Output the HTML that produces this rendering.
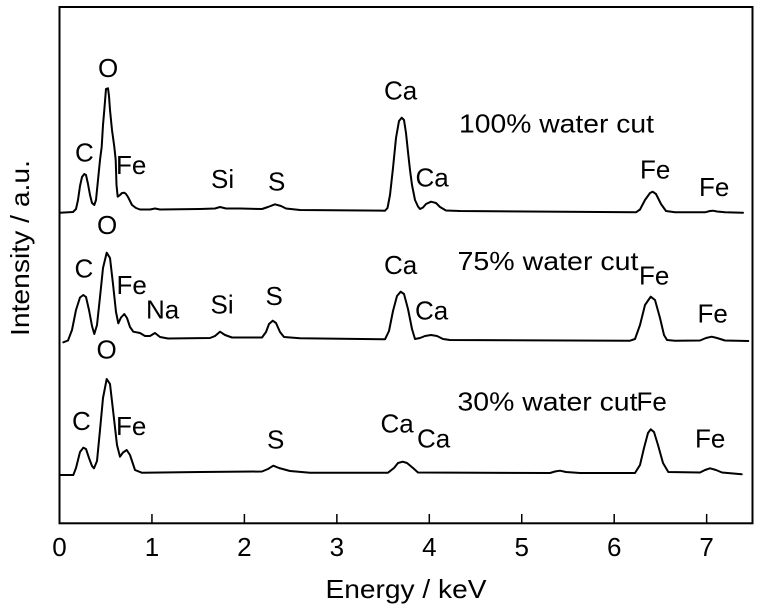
<!DOCTYPE html>
<html>
<head>
<meta charset="utf-8">
<style>
  html, body { margin: 0; padding: 0; background: #fff; }
  svg { display: block; }
  text { font-family: "Liberation Sans", Arial, sans-serif; font-size: 26px; fill: #000; }
</style>
</head>
<body>
<svg width="768" height="609" viewBox="0 0 768 609" xmlns="http://www.w3.org/2000/svg">
  <rect x="0" y="0" width="768" height="609" fill="#fff"/>
  <!-- frame -->
  <rect x="59.5" y="7" width="693" height="516.3" fill="none" stroke="#000" stroke-width="2"/>
  <!-- ticks -->
  <g stroke="#000" stroke-width="1.5">
    <line x1="151.95" y1="523" x2="151.95" y2="514"/>
    <line x1="244.4" y1="523" x2="244.4" y2="514"/>
    <line x1="336.85" y1="523" x2="336.85" y2="514"/>
    <line x1="429.3" y1="523" x2="429.3" y2="514"/>
    <line x1="521.75" y1="523" x2="521.75" y2="514"/>
    <line x1="614.2" y1="523" x2="614.2" y2="514"/>
    <line x1="706.65" y1="523" x2="706.65" y2="514"/>
  </g>
  <!-- tick labels -->
  <g text-anchor="middle">
    <text x="59.5" y="556">0</text>
    <text x="151.95" y="556">1</text>
    <text x="244.4" y="556">2</text>
    <text x="336.85" y="556">3</text>
    <text x="429.3" y="556">4</text>
    <text x="521.75" y="556">5</text>
    <text x="614.2" y="556">6</text>
    <text x="706.65" y="556">7</text>
  </g>
  <text x="406" y="598" text-anchor="middle" textLength="161" lengthAdjust="spacingAndGlyphs">Energy / keV</text>
  <text transform="translate(29,248) rotate(-90)" text-anchor="middle" textLength="176" lengthAdjust="spacingAndGlyphs">Intensity / a.u.</text>

  <!-- curves -->
  <g fill="none" stroke="#000" stroke-width="2" stroke-linejoin="round" stroke-linecap="round">
    <!-- 100% -->
    <polyline points="60,212.7 73,212 76,209 78,200 80,186 82,177 84.3,174 86,175 88,184 90,195 92,203 94.3,205 96,200 98,180 100,160 101.7,146.7 103,125 104.3,110 106,89 108,88.3 109,96 110,110 112,130 114.3,146.7 115.7,160 116.5,185 117.7,196.7 120,195 122,193 124.3,192.7 126,194 128,197 132,205 136,208 140,209.5 150,209.5 155,208.5 160,209.5 200,209 215,208.5 220,207 226,208.5 240,208.5 262,209 268,207 275,204.3 281,206 286,208.5 300,210 385,210.7 387.5,208 390,195 393,168 396,138 399,121 401.7,117.7 404,120 406,133 408,152 410,170 412,185 415,200 418,206.5 420,209 423,207.5 426,204 431,201.7 436,203 440,207 446,210.5 460,211 600,212 636,212.3 640,209.5 645,200 650,193 652.7,191.7 656,194 661,204 666,211 675,212.3 705,212.3 710,211 713,210.7 717,211.5 725,212.3 743,212.7"/>
    <!-- 75% -->
    <polyline points="63.3,342.3 68,340.5 72,330 76,310 80,297.5 83.3,295 86,297 89,310 92,326 94.3,334 97,325 100,297 103,268 106.7,252.7 110,258 113,284 116,312 118.3,323.3 121,317.5 124.3,314 127,318 130,327 133.3,331.7 140,333 145,336 150,336 155,333 160,337 168,338.5 210,338 215,336 220,331.7 225,335 232,337.5 262,337.5 266,332 269,324 272.7,320.7 276,323 280,332 284,337 300,338.3 385,339.3 389,331 393,311 397,296 400.7,291.7 404,294 408,309 412,329 415,339 420,338 425,336 431,335 437,336 443,339 450,340 630,340.7 635,339 640,325 645,305 650.7,296.7 655,300 660,318 664,335 667,340 675,340.7 700,340.5 706,338 711.7,336.7 717,338 725,340.5 748.3,341"/>
    <!-- 30% -->
    <polyline points="60,475 73.3,475 76,468 80,452 83.3,447.7 86,449 89,458 92,466 94,468.3 97,461 100,430 103,398 106.7,379 110,384 113,410 117,445 120,456.7 123,452.5 126.7,450 130,455 133,464 135,470 141.7,472.7 200,472 262,471.5 268,469 273.3,465.7 279,468 290,471 310,472.7 388,472.7 394,468 398,463 402.7,461.7 407,463 413,468 418,472.5 550,473 555,471.5 560,470.7 566,472 580,473 635,473 640,465 644,448 648,433 650.7,429.3 654,432 658,445 663,463 668.3,472 700,472.5 705,470 710,468.3 716,470 722,472.5 741.7,474.3"/>
  </g>

  <!-- labels: 100% -->
  <text x="98" y="77">O</text>
  <text x="75" y="161.7">C</text>
  <text x="116" y="174">Fe</text>
  <text x="211" y="188">Si</text>
  <text x="268" y="190.5">S</text>
  <text x="384" y="99.3">Ca</text>
  <text x="459" y="132.7" textLength="195" lengthAdjust="spacingAndGlyphs">100% water cut</text>
  <text x="415.5" y="186.7">Ca</text>
  <text x="640" y="178.3">Fe</text>
  <text x="699" y="196">Fe</text>

  <!-- labels: 75% -->
  <text x="97" y="234">O</text>
  <text x="74.5" y="277.3">C</text>
  <text x="116.5" y="294">Fe</text>
  <text x="146" y="318.3">Na</text>
  <text x="210.5" y="313.3">Si</text>
  <text x="265.5" y="305">S</text>
  <text x="384" y="274">Ca</text>
  <text x="457.5" y="270" textLength="181" lengthAdjust="spacingAndGlyphs">75% water cut</text>
  <text x="415" y="319.3">Ca</text>
  <text x="639" y="284.3">Fe</text>
  <text x="697.5" y="322.7">Fe</text>

  <!-- labels: 30% -->
  <text x="96.5" y="358.3">O</text>
  <text x="72" y="430">C</text>
  <text x="116" y="435">Fe</text>
  <text x="267" y="448.3">S</text>
  <text x="380.5" y="432.7">Ca</text>
  <text x="417" y="447.3">Ca</text>
  <text x="457.5" y="410.7" textLength="180" lengthAdjust="spacingAndGlyphs">30% water cut</text>
  <text x="636.5" y="410.7">Fe</text>
  <text x="695" y="447.3">Fe</text>
</svg>
</body>
</html>
